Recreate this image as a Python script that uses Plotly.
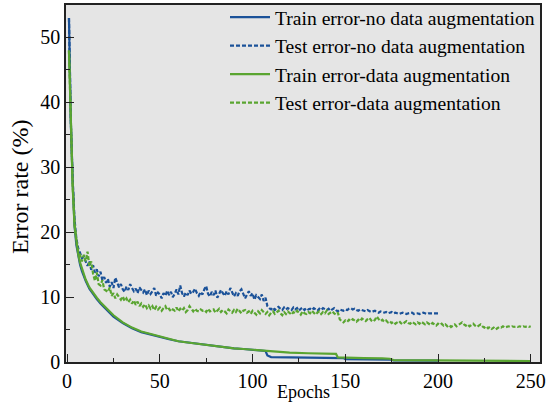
import plotly.graph_objects as go

# ---------------- data ----------------
train_noaug_epochs = [1, 2, 3, 4, 5, 6, 7, 8, 9, 10, 12, 14, 16, 18, 20, 25, 30, 35, 40, 45, 50,
                      55, 60, 65, 70, 75, 80, 85, 90, 95, 100, 105, 107, 108, 110, 120, 130, 140,
                      149, 150, 160, 170, 174, 176, 190, 200]
train_noaug = [53, 37, 28, 21, 18, 16.3, 15.0, 14.0, 13.2, 12.5, 11.3, 10.4, 9.7, 9.0, 8.4, 7.0, 6.0,
               5.2, 4.6, 4.2, 3.9, 3.5, 3.2, 3.0, 2.8, 2.6, 2.4, 2.3, 2.1, 2.0, 1.85, 1.75, 1.7, 1.0,
               0.75, 0.7, 0.65, 0.6, 0.6, 0.45, 0.42, 0.4, 0.38, 0.25, 0.22, 0.2]

test_noaug = [53, 37, 28, 22, 19, 17.5, 16.8, 16, 16.2, 15.5,
              14.8, 15.5, 14.2, 14.9, 13.8, 14.3, 13.2, 13.9, 12.6, 13.1,
              12.2, 12.8, 11.6, 12.3, 11.4, 13.0, 12.2, 11.5, 12.0, 11.2,
              10.8, 11.6, 11.1, 12.0, 11.4, 10.9, 11.3, 10.6, 11.5, 11.0,
              10.7, 11.2, 10.3, 11.0, 10.5, 10.9, 11.4, 10.2, 10.7, 10.4,
              9.8, 10.6, 10.2, 11.0, 10.3, 10.8, 10.0, 10.5, 11.2, 10.4,
              11.8, 10.6, 10.1, 10.7, 10.3, 11.0, 10.5, 10.8, 11.3, 10.6,
              10.2, 10.8, 10.4, 11.2, 11.7, 10.5, 10.1, 10.8, 10.3, 11.0,
              9.9, 10.5, 11.1, 10.6, 10.2, 10.9, 10.4, 11.4, 10.7, 10.1,
              10.6, 10.2, 10.9, 11.2, 10.5, 9.8, 10.4, 10.9, 10.2, 10.6,
              9.6, 10.3, 10.0, 9.7, 10.4, 9.4, 9.9,
              8.6, 8.3, 8.1, 8.4, 8.0, 8.3, 8.5, 8.2, 8.0, 8.4, 8.1, 8.3, 8.2,
              8.0, 8.4, 8.1, 8.3, 7.9, 8.2, 8.4, 8.0, 8.3, 8.1,
              8.2, 8.0, 8.3, 8.1, 7.9, 8.2, 8.0, 8.3, 8.1, 8.0,
              8.2, 7.9, 8.1, 8.3, 8.0, 7.8, 8.1, 8.0, 7.9, 8.1,
              8.0, 8.2, 8.3, 8.1, 8.2, 8.0, 7.9, 8.1, 8.0, 7.9,
              7.8, 8.0, 7.9, 7.7, 7.8, 7.9, 7.7, 7.6, 7.8, 7.7,
              7.6, 7.7, 7.5, 7.6, 7.7,
              7.5, 7.6, 7.5, 7.4, 7.5, 7.6, 7.5, 7.4, 7.5, 7.5,
              7.6, 7.4, 7.5, 7.5, 7.4, 7.5, 7.6, 7.5, 7.4, 7.5,
              7.5, 7.4, 7.5, 7.5, 7.5]

train_aug_epochs = [1, 2, 3, 4, 5, 6, 7, 8, 9, 10, 12, 14, 16, 18, 20, 25, 30, 35, 40, 45, 50,
                    55, 60, 65, 70, 75, 80, 85, 90, 95, 100, 105, 110, 120, 130, 140, 145, 146,
                    150, 160, 170, 174, 176, 200, 225, 250]
train_aug = [48, 35, 27, 21, 18.3, 16.6, 15.3, 14.3, 13.4, 12.7, 11.5, 10.6, 9.9, 9.2, 8.6, 7.2, 6.1,
             5.3, 4.7, 4.3, 3.9, 3.5, 3.2, 3.0, 2.8, 2.6, 2.4, 2.3, 2.1, 2.0, 1.9, 1.8, 1.6, 1.45,
             1.35, 1.3, 1.25, 0.7, 0.65, 0.6, 0.55, 0.5, 0.3, 0.25, 0.2, 0.15]

test_aug = [48, 35, 27, 21.5, 18.5, 17, 16.5, 15.5, 16.5, 15.5,
            17.0, 14.8, 15.5, 13.6, 12.5, 13.8, 12.0, 11.8, 12.6, 11.2,
            11.0, 10.8, 11.5, 10.2, 10.6, 9.8, 10.4, 10.0, 9.6, 10.1,
            9.4, 9.8, 9.2, 9.6, 9.0, 9.5, 8.8, 9.3, 8.6, 9.0,
            8.5, 8.9, 8.3, 8.7, 8.2, 8.6, 8.0, 8.5, 8.1, 8.4,
            7.9, 8.3, 8.6, 8.0, 8.2, 7.8, 8.1, 7.9, 8.4, 7.8,
            8.2, 7.9, 8.3, 7.7, 8.0, 8.6, 8.1, 7.8, 8.2, 7.9,
            7.8, 8.1, 7.9, 8.0, 7.7, 8.2, 7.8, 7.9, 8.1, 7.6,
            7.9, 8.2, 7.7, 8.0, 7.8, 7.5, 8.1, 7.9, 7.6, 8.0,
            7.7, 8.2, 7.8, 7.5, 7.9, 8.0, 7.6, 7.8, 7.4, 7.9,
            7.6, 7.3, 7.8, 7.5, 8.0, 7.6, 7.4, 7.7, 7.2, 7.6,
            7.8, 7.4, 7.6, 7.9, 7.5, 7.2, 7.7, 7.4, 7.8, 7.5,
            7.3, 7.7, 7.5, 7.9, 7.6, 7.3, 7.8, 7.5, 7.4, 7.7,
            7.5, 7.9, 7.6, 7.3, 7.6, 7.8, 7.4, 7.7, 7.5, 7.9,
            7.4, 7.6, 7.8, 7.5, 7.3, 7.6, 6.6, 6.3, 6.1, 6.4,
            6.2, 6.5, 6.3, 6.6, 6.4, 6.2, 6.5, 6.3, 6.7, 6.5,
            6.3, 6.6, 6.8, 6.4, 6.2, 6.5, 7.0, 6.6, 6.3, 6.5,
            6.2, 6.4, 6.1, 6.3, 6.0, 6.2, 5.9, 6.1, 6.3, 6.0,
            5.8, 6.1, 6.3, 6.0, 5.9, 6.2, 6.0, 5.8, 6.1, 5.9,
            6.2, 6.0, 5.8, 6.1, 5.9, 5.7, 6.0, 5.8, 5.6, 5.9,
            5.7, 5.9, 5.6, 5.8, 5.5, 5.7, 5.4, 5.6, 5.8, 5.5,
            5.7, 5.9, 6.1, 5.8, 5.6, 5.8, 5.5, 5.7, 5.9, 5.6,
            5.4, 5.6, 5.8, 5.5, 5.3, 5.5, 5.2, 5.4, 5.1, 5.3,
            5.0, 5.2, 5.4, 5.3, 5.5, 5.3, 5.4, 5.5, 5.4, 5.5,
            5.4, 5.5, 5.4, 5.5, 5.4, 5.5, 5.4, 5.5, 5.4, 5.5]

test_noaug_epochs = list(range(1, len(test_noaug) + 1))
test_aug_epochs = list(range(1, len(test_aug) + 1))

labels = ["Train error-no data augmentation", "Test error-no data augmentation",
          "Train error-data augmentation", "Test error-data augmentation"]

BLUE = "#1b5299"
GREEN = "#5aa531"
FONT = "Liberation Serif, Times New Roman, serif"
DASH = "4px,2px"

fig = go.Figure()
fig.add_trace(go.Scatter(x=train_noaug_epochs, y=train_noaug, mode="lines", name=labels[0],
                         line=dict(color=BLUE, width=2.2), legendgroup="a"))
fig.add_trace(go.Scatter(x=test_noaug_epochs, y=test_noaug, mode="lines", name=labels[1],
                         line=dict(color=BLUE, width=2.2, dash=DASH), legendgroup="b"))
fig.add_trace(go.Scatter(x=train_aug_epochs, y=train_aug, mode="lines", name=labels[2],
                         line=dict(color=GREEN, width=2.2), legendgroup="c"))
fig.add_trace(go.Scatter(x=test_aug_epochs, y=test_aug, mode="lines", name=labels[3],
                         line=dict(color=GREEN, width=2.2, dash=DASH), legendgroup="d"))

axis_common = dict(showline=True, linecolor="#222222", linewidth=1.5, mirror=True,
                   ticks="inside", ticklen=8, tickwidth=1.2, tickcolor="#222222",
                   showgrid=False, zeroline=False, automargin=False,
                   tickfont=dict(family=FONT, size=20, color="black"))

fig.update_xaxes(range=[-0.6, 255], tick0=0, dtick=50,
                 minor=dict(ticks="inside", ticklen=4, tickwidth=1.2, tickcolor="#222222", dtick=25, tick0=0),
                 **axis_common)
fig.update_yaxes(range=[0, 55], tick0=0, dtick=10,
                 minor=dict(ticks="inside", ticklen=4, tickwidth=1.2, tickcolor="#222222", dtick=5, tick0=0),
                 **axis_common)

fig.update_layout(
    width=548, height=404,
    margin=dict(l=66, r=8, t=5, b=42, autoexpand=False),
    paper_bgcolor="white", plot_bgcolor="#e5e5e5",
    showlegend=True,
    legend=dict(x=1, y=1.02, xanchor="right", yanchor="top", bgcolor="rgba(0,0,0,0)",
                font=dict(family=FONT, size=19.6, color="black"), tracegroupgap=0,
                traceorder="normal", itemwidth=40),
    annotations=[
        dict(text="Epochs", xref="paper", yref="paper", x=0.5, y=-0.085, xanchor="center",
             yanchor="middle", showarrow=False, font=dict(family=FONT, size=18, color="black")),
        dict(text="Error rate (%)", xref="paper", yref="paper", x=-0.097, y=0.49, xanchor="center",
             yanchor="middle", textangle=-90, showarrow=False,
             font=dict(family=FONT, size=24, color="black")),
    ],
)

fig.write_html("out.html", config={"displayModeBar": False},
               post_script="document.body.style.margin='0';document.body.style.overflow='hidden';")
